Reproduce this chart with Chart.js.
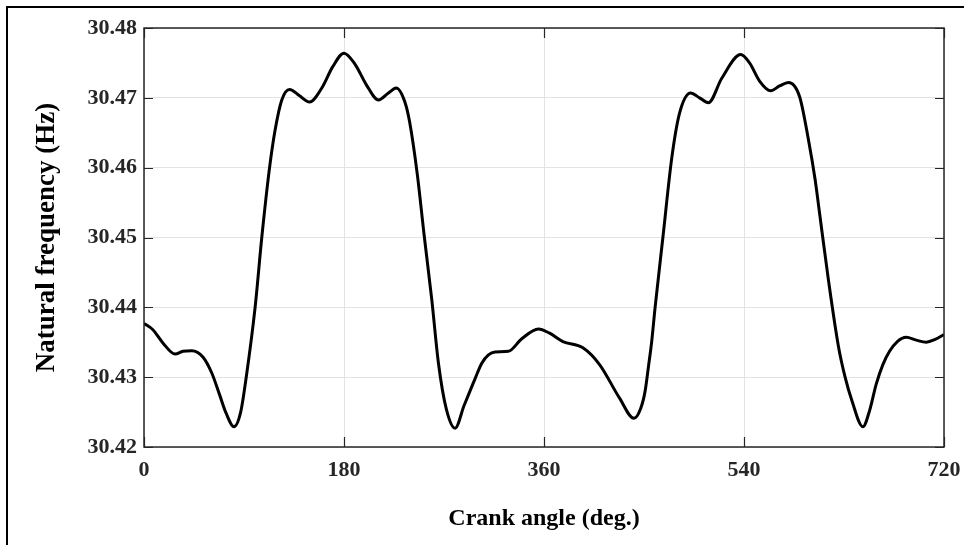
<!DOCTYPE html>
<html>
<head>
<meta charset="utf-8">
<script src="https://cdn.jsdelivr.net/npm/chart.js@4.4.1/dist/chart.umd.min.js"></script>
<style>
  html, body { margin: 0; padding: 0; background: #fff; }
  #wrap { width: 964px; height: 545px; position: relative; }
</style>
</head>
<body>
<div id="wrap"><canvas id="c" width="964" height="545"></canvas></div>
<script>
// ---- data ----
const crankAngle = [0, 8, 17, 28, 35, 43, 53, 61, 68, 74, 81, 87, 92, 100, 106, 113, 118, 124, 131, 140,
  149, 160, 170, 180, 190, 200, 211, 220, 227, 235, 239, 246, 252, 259, 265, 272, 280, 288, 298, 304,
  310, 316, 328, 340, 355, 365, 377, 395, 410, 428, 441, 447, 451, 454, 457, 460, 467, 475, 482, 492,
  500, 508, 520, 537, 545, 554, 564, 572, 580, 590, 598, 604, 608, 616, 625, 631, 637, 647, 653, 659,
  665, 671, 678, 686, 695, 704, 712, 720];
const naturalFreq = [30.4377, 30.4368, 30.4349, 30.4333, 30.4337, 30.4338, 30.4329, 30.4306, 30.4275, 30.4248,
  30.4229, 30.4250, 30.4300, 30.4400, 30.4500, 30.4600, 30.4654, 30.4697, 30.4712, 30.4703,
  30.4694, 30.4714, 30.4745, 30.4764, 30.4748, 30.4719, 30.4697, 30.4707, 30.4714, 30.4693,
  30.4666, 30.4590, 30.4505, 30.4411, 30.4320, 30.4255, 30.4227, 30.4259, 30.4298, 30.4320,
  30.4332, 30.4336, 30.4337, 30.4355, 30.4369, 30.4363, 30.4351, 30.4342, 30.4318, 30.4270,
  30.4241, 30.4255, 30.4280, 30.4315, 30.4352, 30.4400, 30.4500, 30.4614, 30.4678, 30.4707,
  30.4700, 30.4693, 30.4728, 30.4762, 30.4750, 30.4724, 30.4710, 30.4717, 30.4722, 30.4702,
  30.4640, 30.4583, 30.4535, 30.4439, 30.4344, 30.4300, 30.4267, 30.4229, 30.4252, 30.4290,
  30.4318, 30.4337, 30.4351, 30.4357, 30.4353, 30.4350, 30.4354, 30.4361];
const xTicks = [0, 180, 360, 540, 720];
const yTicks = [30.42, 30.43, 30.44, 30.45, 30.46, 30.47, 30.48];
const xTitle = 'Crank angle (deg.)';
const yTitle = 'Natural frequency (Hz)';

const points = crankAngle.map((a, i) => ({ x: a, y: naturalFreq[i] }));
const FONT = '"Liberation Serif", "Times New Roman", serif';
const TXT = '#262626';

// box, mirrored inward ticks and outer frame
const boxPlugin = {
  id: 'box',
  afterDraw(chart) {
    const { ctx, chartArea: a, scales: { x, y } } = chart;
    ctx.save();
    ctx.strokeStyle = TXT;
    ctx.lineWidth = 1.5;
    ctx.strokeRect(a.left, a.top, a.right - a.left, a.bottom - a.top);
    ctx.lineWidth = 1.2;
    ctx.beginPath();
    xTicks.forEach(v => {
      const px = Math.round(x.getPixelForValue(v)) + 0.5;
      ctx.moveTo(px, a.bottom); ctx.lineTo(px, a.bottom - 10);
      ctx.moveTo(px, a.top); ctx.lineTo(px, a.top + 10);
    });
    yTicks.forEach(v => {
      const py = Math.round(y.getPixelForValue(v)) + 0.5;
      ctx.moveTo(a.left, py); ctx.lineTo(a.left + 9, py);
      ctx.moveTo(a.right, py); ctx.lineTo(a.right - 9, py);
    });
    ctx.stroke();
    // outer figure frame (top and left edges visible)
    ctx.strokeStyle = '#000';
    ctx.lineWidth = 2;
    ctx.beginPath();
    ctx.moveTo(7, 600); ctx.lineTo(7, 7); ctx.lineTo(1000, 7);
    ctx.stroke();
    ctx.restore();
  }
};

new Chart(document.getElementById('c'), {
  type: 'line',
  data: {
    datasets: [{
      data: points,
      borderColor: '#000',
      borderWidth: 3,
      pointRadius: 0,
      fill: false,
      cubicInterpolationMode: 'monotone'
    }]
  },
  options: {
    responsive: false,
    animation: false,
    devicePixelRatio: 1,
    layout: { padding: { left: 0, top: 28, right: 20, bottom: 0 } },
    plugins: { legend: { display: false }, tooltip: { enabled: false } },
    scales: {
      x: {
        type: 'linear',
        min: 0, max: 720,
        afterBuildTicks(s) { s.ticks = xTicks.map(v => ({ value: v })); },
        afterFit(s) { s.height = 98; s.paddingLeft = 0; s.paddingRight = 0; },
        grid: { color: '#e3e3e3', lineWidth: 1, drawTicks: false },
        border: { display: false },
        ticks: {
          padding: 10,
          color: TXT,
          font: { family: FONT, size: 22, weight: 'bold' },
          maxRotation: 0,
          callback: v => String(v)
        },
        title: {
          display: true, text: xTitle, color: '#000',
          font: { family: FONT, size: 24, weight: 'bold' },
          padding: { top: 0, bottom: 12 }
        }
      },
      y: {
        type: 'linear',
        min: 30.42, max: 30.48,
        afterBuildTicks(s) { s.ticks = yTicks.map(v => ({ value: v })); },
        afterFit(s) { s.width = 144; s.paddingTop = 0; s.paddingBottom = 0; },
        grid: { color: '#e3e3e3', lineWidth: 1, drawTicks: false },
        border: { display: false },
        ticks: {
          padding: 7,
          color: TXT,
          font: { family: FONT, size: 22, weight: 'bold' },
          callback: v => Number(v).toFixed(2)
        },
        title: {
          display: true, text: yTitle, color: '#000',
          font: { family: FONT, size: 27, weight: 'bold' },
          padding: { top: 31, bottom: 0 }
        }
      }
    }
  },
  plugins: [boxPlugin]
});
</script>
</body>
</html>
